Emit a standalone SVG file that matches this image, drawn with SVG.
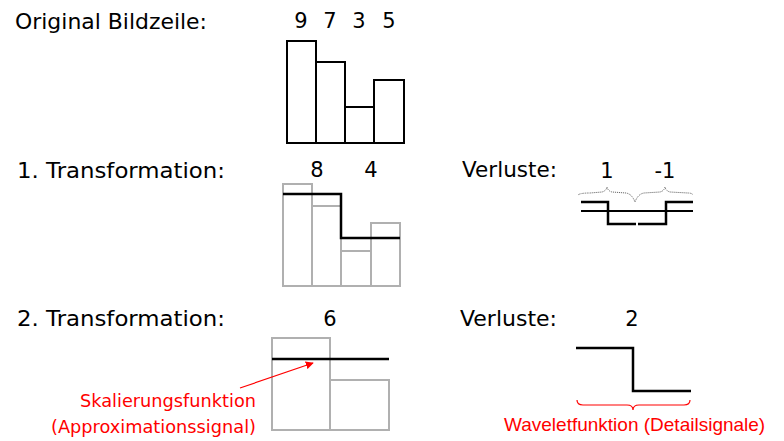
<svg xmlns="http://www.w3.org/2000/svg" width="784" height="441" viewBox="0 0 784 441">
  <defs>
    <style>
      text { font-family: "DejaVu Sans", "Liberation Sans", sans-serif; }
      .lbl { font-size: 21px; fill: #000; }
      .num { font-size: 21px; fill: #000; text-anchor: middle; }
      .red { font-size: 18px; fill: #ff0000; }
      .narrow { font-family: "Liberation Sans", "DejaVu Sans", sans-serif; font-size: 19px; }
      .bar { fill: #fff; stroke: #000; stroke-width: 2; }
      .ghost { fill: #fff; stroke: #b0b0b0; stroke-width: 2; }
      .sig { fill: none; stroke: #000; stroke-width: 2.5; }
      .thin { fill: none; stroke: #000; stroke-width: 2; }
      .brace { fill: none; stroke: #ff0000; stroke-width: 1.2; }
      .dots { fill: none; stroke: #555; stroke-width: 1; stroke-dasharray: 1 1; }
    </style>
    <marker id="arrow" viewBox="0 0 10 10" refX="9" refY="5" markerWidth="8" markerHeight="8" orient="auto" markerUnits="userSpaceOnUse">
      <path d="M0,0 L10,5 L0,10 z" fill="#ff0000"/>
    </marker>
  </defs>

  <!-- row labels -->
  <g id="labels">
    <text class="lbl" x="15" y="29" textLength="192" lengthAdjust="spacingAndGlyphs">Original Bildzeile:</text>
    <text class="lbl" x="17" y="178" textLength="208" lengthAdjust="spacingAndGlyphs">1. Transformation:</text>
    <text class="lbl" x="17" y="326" textLength="208" lengthAdjust="spacingAndGlyphs">2. Transformation:</text>
    <text class="lbl" x="462" y="177" textLength="95" lengthAdjust="spacingAndGlyphs">Verluste:</text>
    <text class="lbl" x="460" y="326" textLength="97" lengthAdjust="spacingAndGlyphs">Verluste:</text>
  </g>

  <!-- original row: 9 7 3 5 -->
  <g id="original">
    <text class="num" x="301" y="28">9</text>
    <text class="num" x="330" y="28">7</text>
    <text class="num" x="359" y="28">3</text>
    <text class="num" x="389" y="28">5</text>
    <rect class="bar" x="287" y="41" width="29" height="102"/>
    <rect class="bar" x="316" y="62" width="29" height="81"/>
    <rect class="bar" x="345" y="107" width="29" height="36"/>
    <rect class="bar" x="374" y="80" width="30" height="63"/>
  </g>

  <!-- first transform: averages 8 4 -->
  <g id="transform1">
    <text class="num" x="317" y="177">8</text>
    <text class="num" x="371" y="177">4</text>
    <rect class="ghost" x="283" y="184" width="29" height="102"/>
    <rect class="ghost" x="312" y="206" width="29" height="80"/>
    <rect class="ghost" x="341" y="251" width="30" height="35"/>
    <rect class="ghost" x="371" y="223" width="29" height="63"/>
    <path class="sig" d="M283,194 H341 V238 H400"/>
  </g>

  <!-- first transform: details 1 -1 -->
  <g id="detail1">
    <text class="num" x="607" y="178">1</text>
    <text class="num" x="665" y="178">-1</text>
    <path class="dots" d="M578,195 Q580,193 590,193 L602,192 Q606,191 607,187 Q608,191 612,192 L626,193 Q632,194 635,202 Q638,194 644,193 L660,192 Q664,191 665,187 Q666,191 670,192 L688,193 Q692,193 693,195"/>
    <line class="thin" x1="581" y1="211" x2="693" y2="211"/>
    <path class="sig" d="M581,202 H608 V224 H636"/>
    <path class="sig" d="M638,224 H666 V202 H693"/>
  </g>

  <!-- second transform: average 6 -->
  <g id="transform2">
    <text class="num" x="330" y="326">6</text>
    <rect class="ghost" x="272" y="338" width="58" height="92"/>
    <rect class="ghost" x="330" y="380" width="59" height="50"/>
    <line class="sig" x1="272" y1="359" x2="389" y2="359"/>
  </g>

  <!-- second transform: detail 2 -->
  <g id="detail2">
    <text class="num" x="632" y="326">2</text>
    <path class="sig" d="M576,348 H633 V391 H691"/>
  </g>

  <!-- annotations -->
  <g id="scaling-note">
    <text class="red" x="256" y="407" text-anchor="end" textLength="176" lengthAdjust="spacingAndGlyphs">Skalierungsfunktion</text>
    <text class="red" x="256" y="433" text-anchor="end" textLength="205" lengthAdjust="spacingAndGlyphs">(Approximationssignal)</text>
  </g>
  <g id="wavelet-note">
    <path class="brace" d="M577,400 Q577,405 583,405 L627,405 Q633,405 633,410 Q633,405 639,405 L684,405 Q690,405 690,400"/>
    <text class="red narrow" x="504" y="431">Waveletfunktion (Detailsignale)</text>
  </g>

  <g id="connectors">
    <line x1="240" y1="388" x2="313" y2="363" stroke="#ff0000" stroke-width="1.2" marker-end="url(#arrow)"/>
  </g>
</svg>
